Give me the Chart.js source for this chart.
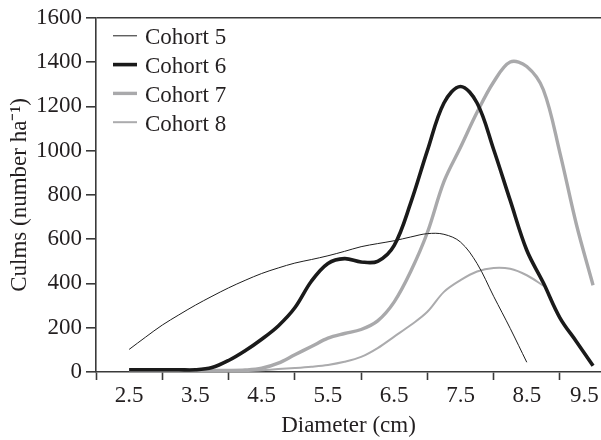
<!DOCTYPE html>
<html>
<head>
<meta charset="utf-8">
<script src="https://cdn.jsdelivr.net/npm/chart.js@4/dist/chart.umd.min.js"></script>
<style>
  html, body { margin: 0; padding: 0; background: #fff; }
  #wrap { width: 601px; height: 440px; }
</style>
</head>
<body>
<div id="wrap"><canvas id="c" width="601" height="440"></canvas></div>
<script>
// ---- data ----
const diameters = [2.5, 2.75, 3.0, 3.25, 3.5, 3.75, 4.0, 4.25, 4.5, 4.75, 5.0, 5.25, 5.5, 5.75,
                   6.0, 6.25, 6.5, 6.75, 7.0, 7.25, 7.5, 7.75, 8.0, 8.25, 8.5, 8.75, 9.0, 9.25, 9.5];
const cohort5 = [102, 158, 212, 258, 302, 342, 380, 414, 445, 470, 492, 508, 525, 545,
                 566, 580, 593, 610, 625, 622, 587, 490, 342, 197, 44, null, null, null, null];
const cohort6 = [10, 10, 10, 10, 10, 20, 52, 96, 148, 208, 290, 410, 490, 512,
                 497, 500, 572, 765, 1000, 1215, 1290, 1215, 1005, 775, 550, 403, 245, 137, 28];
const cohort7 = [7, 7, 7, 7, 7, 7, 7, 9, 17, 40, 78, 115, 153, 174,
                 192, 231, 317, 455, 630, 860, 1015, 1173, 1310, 1400, 1380, 1275, 990, 665, 392];
const cohort8 = [3, 3, 3, 3, 3, 3, 3, 4, 8, 13, 18, 24, 32, 46,
                 68, 108, 160, 212, 272, 362, 415, 454, 470, 466, 437, 390, null, null, null];
const seriesNames = ['Cohort 5', 'Cohort 6', 'Cohort 7', 'Cohort 8'];
const xLabelValues = [2.5, 3.5, 4.5, 5.5, 6.5, 7.5, 8.5, 9.5];
const yTickValues = [0, 200, 400, 600, 800, 1000, 1200, 1400, 1600];
const xTitle = 'Diameter (cm)';
const yTitle = 'Culms (number ha\u207B\u00B9)';

const toPoints = (vals) => diameters.map((d, i) => ({ x: d, y: vals[i] }));

const FONT = '"Liberation Serif", "Times New Roman", serif';
const FS = 23;
const INK = '#231f20';
const AXIS = '#3a3a3a';

const insideLegend = {
  id: 'insideLegend',
  afterDatasetsDraw(chart) {
    const { ctx, chartArea } = chart;
    const x0 = chartArea.left + 17, x1 = chartArea.left + 41, tx = chartArea.left + 49;
    chart.data.datasets.forEach((ds, i) => {
      const y = chartArea.top + 18 + i * 28.8;
      ctx.save();
      ctx.strokeStyle = ds.borderColor;
      ctx.lineWidth = ds.borderWidth;
      ctx.lineCap = 'butt';
      ctx.beginPath();
      ctx.moveTo(x0, y);
      ctx.lineTo(x1, y);
      ctx.stroke();
      ctx.fillStyle = INK;
      ctx.font = FS + 'px ' + FONT;
      ctx.textBaseline = 'alphabetic';
      ctx.textAlign = 'left';
      ctx.fillText(ds.label, tx, y + 8.3);
      ctx.restore();
    });
  }
};

const styles = [
  { color: '#1e1e1e', width: 1 },
  { color: '#1a1a1a', width: 3.6 },
  { color: '#a9a9ab', width: 3.4 },
  { color: '#ababad', width: 2 }
];
const allSeries = [cohort5, cohort6, cohort7, cohort8];

new Chart(document.getElementById('c'), {
  type: 'line',
  data: {
    datasets: allSeries.map((vals, i) => ({
      label: seriesNames[i],
      data: toPoints(vals),
      borderColor: styles[i].color,
      borderWidth: styles[i].width,
      pointRadius: 0,
      fill: false,
      tension: 0.35,
      spanGaps: false
    }))
  },
  options: {
    responsive: false,
    animation: false,
    events: [],
    layout: { padding: { top: 17, right: 0, bottom: 0, left: 0 } },
    plugins: { legend: { display: false }, tooltip: { enabled: false }, title: { display: false } },
    scales: {
      x: {
        type: 'linear',
        min: 2,
        max: 9.62,
        border: { display: true, color: AXIS, width: 1.6 },
        grid: {
          drawOnChartArea: false,
          drawTicks: true,
          tickLength: 8,
          tickWidth: 1.6,
          tickColor: (c) => (c.tick && Math.abs(c.tick.value % 1) < 1e-6) ? AXIS : 'rgba(0,0,0,0)'
        },
        ticks: {
          stepSize: 0.5,
          includeBounds: false,
          autoSkip: false,
          maxRotation: 0,
          minRotation: 0,
          maxTicksLimit: 100,
          padding: 2,
          color: INK,
          font: { family: FONT, size: FS },
          callback: (v) => {
            const hit = xLabelValues.find(l => Math.abs(l - v) < 1e-6);
            if (hit === undefined) return '';
            const s = hit.toFixed(1);
            return hit === xLabelValues[xLabelValues.length - 1] ? s + '   ' : s;
          }
        },
        title: {
          display: true,
          text: xTitle,
          color: INK,
          font: { family: FONT, size: FS },
          padding: { top: 0, bottom: 0 }
        },
        afterFit: (s) => { s.height = 68; s.paddingLeft = 0; s.paddingRight = 0; }
      },
      y: {
        type: 'linear',
        min: 0,
        max: 1600,
        border: { display: true, color: AXIS, width: 1.6 },
        grid: {
          drawOnChartArea: true,
          drawTicks: true,
          tickLength: 10,
          tickWidth: 1.6,
          lineWidth: 1.6,
          color: (c) => (c.tick && c.tick.value === 1600) ? AXIS : 'rgba(0,0,0,0)',
          tickColor: AXIS
        },
        ticks: {
          stepSize: 200,
          padding: 4,
          color: INK,
          font: { family: FONT, size: FS },
          callback: (v) => yTickValues.includes(v) ? String(v) : ''
        },
        title: {
          display: true,
          text: yTitle,
          color: INK,
          font: { family: FONT, size: FS },
          padding: { top: 6, bottom: 0 }
        },
        afterFit: (s) => { s.width = 96; }
      }
    }
  },
  plugins: [insideLegend]
});
</script>
</body>
</html>
